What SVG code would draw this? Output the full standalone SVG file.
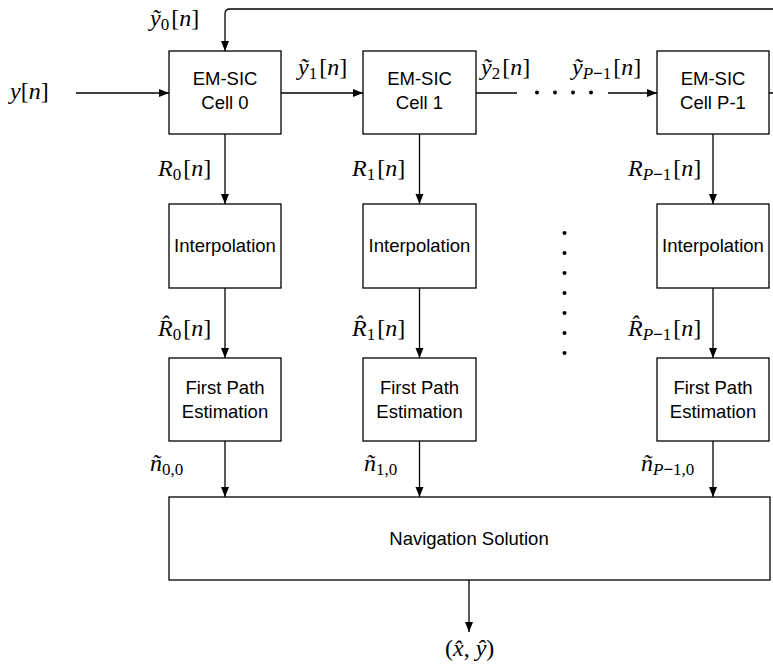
<svg xmlns="http://www.w3.org/2000/svg" width="773" height="665" viewBox="0 0 773 665">
<defs>
<marker id="ah" markerWidth="10" markerHeight="10" refX="10" refY="5" orient="auto" markerUnits="userSpaceOnUse">
<path d="M0,1 L10,5 L0,9 Z" fill="#000"/>
</marker>
<style>
.box{fill:#fff;stroke:#000;stroke-width:1.3}
.t{font-family:"Liberation Sans",Arial,sans-serif;font-size:18.5px;fill:#000;text-anchor:middle}
.ln{fill:none;stroke:#000;stroke-width:1.3}
.ar{fill:none;stroke:#000;stroke-width:1.3;marker-end:url(#ah)}
.m{font-family:"Liberation Serif","Times New Roman",serif;font-size:24px;fill:#000}
.i{font-style:italic}
.s{font-size:17px}
.dot{fill:#000}
</style>
</defs>
<rect width="773" height="665" fill="#fff"/>

<g id="connectors">
<path class="ar" d="M769,93 H790 V9 H230 Q225,9 225,14 V51"/>
<line class="ar" x1="76" y1="93" x2="169" y2="93"/>
<line class="ar" x1="281" y1="93" x2="363" y2="93"/>
<line class="ln" x1="476" y1="93" x2="517" y2="93"/>
<line class="ar" x1="608" y1="93" x2="657" y2="93"/>
<line class="ar" x1="225" y1="134" x2="225" y2="204"/>
<line class="ar" x1="419.5" y1="134" x2="419.5" y2="204"/>
<line class="ar" x1="713" y1="134" x2="713" y2="204"/>
<line class="ar" x1="225" y1="288" x2="225" y2="358"/>
<line class="ar" x1="419.5" y1="288" x2="419.5" y2="358"/>
<line class="ar" x1="713" y1="288" x2="713" y2="358"/>
<line class="ar" x1="225" y1="441" x2="225" y2="497"/>
<line class="ar" x1="419.5" y1="441" x2="419.5" y2="497"/>
<line class="ar" x1="713" y1="441" x2="713" y2="497"/>
<line class="ar" x1="469" y1="580" x2="469" y2="632"/>
<circle class="dot" cx="537" cy="92.5" r="2"/>
<circle class="dot" cx="555" cy="92.5" r="2"/>
<circle class="dot" cx="573" cy="92.5" r="2"/>
<circle class="dot" cx="591" cy="92.5" r="2"/>
<circle class="dot" cx="564.5" cy="233" r="2"/>
<circle class="dot" cx="564.5" cy="253" r="2"/>
<circle class="dot" cx="564.5" cy="273" r="2"/>
<circle class="dot" cx="564.5" cy="293" r="2"/>
<circle class="dot" cx="564.5" cy="313" r="2"/>
<circle class="dot" cx="564.5" cy="333" r="2"/>
<circle class="dot" cx="564.5" cy="353" r="2"/>
</g>

<g id="cell0"><rect class="box" x="169" y="51" width="112" height="83"/><text class="t" x="225" y="85">EM-SIC</text><text class="t" x="225" y="109">Cell 0</text></g>
<g id="cell1"><rect class="box" x="363" y="51" width="113" height="83"/><text class="t" x="419.5" y="85">EM-SIC</text><text class="t" x="419.5" y="109">Cell 1</text></g>
<g id="cellP"><rect class="box" x="657" y="51" width="112" height="83"/><text class="t" x="713" y="85">EM-SIC</text><text class="t" x="713" y="109">Cell P-1</text></g>

<g id="interp0"><rect class="box" x="169" y="204" width="112" height="84"/><text class="t" x="225" y="252">Interpolation</text></g>
<g id="interp1"><rect class="box" x="363" y="204" width="113" height="84"/><text class="t" x="419.5" y="252">Interpolation</text></g>
<g id="interpP"><rect class="box" x="657" y="204" width="112" height="84"/><text class="t" x="713" y="252">Interpolation</text></g>

<g id="fpe0"><rect class="box" x="169" y="358" width="112" height="83"/><text class="t" x="225" y="394">First Path</text><text class="t" x="225" y="418">Estimation</text></g>
<g id="fpe1"><rect class="box" x="363" y="358" width="113" height="83"/><text class="t" x="419.5" y="394">First Path</text><text class="t" x="419.5" y="418">Estimation</text></g>
<g id="fpeP"><rect class="box" x="657" y="358" width="112" height="83"/><text class="t" x="713" y="394">First Path</text><text class="t" x="713" y="418">Estimation</text></g>

<g id="nav"><rect class="box" x="169" y="497" width="601" height="83"/><text class="t" x="469" y="545">Navigation Solution</text></g>

<g id="labels">
<text class="m" x="150" y="26"><tspan class="i">ỹ</tspan><tspan class="s" dy="4">0</tspan><tspan dy="-4" dx="2">[</tspan><tspan class="i">n</tspan>]</text>
<text class="m" x="10" y="99"><tspan class="i">y</tspan>[<tspan class="i">n</tspan>]</text>
<text class="m" x="298" y="75"><tspan class="i">ỹ</tspan><tspan class="s" dy="4">1</tspan><tspan dy="-4" dx="2">[</tspan><tspan class="i">n</tspan>]</text>
<text class="m" x="481" y="75"><tspan class="i">ỹ</tspan><tspan class="s" dy="4">2</tspan><tspan dy="-4" dx="2">[</tspan><tspan class="i">n</tspan>]</text>
<text class="m" x="572" y="75"><tspan class="i">ỹ</tspan><tspan class="s i" dy="4">P</tspan><tspan class="s" font-weight="bold">−</tspan><tspan class="s">1</tspan><tspan dy="-4" dx="2">[</tspan><tspan class="i">n</tspan>]</text>

<text class="m" x="158" y="176"><tspan class="i">R</tspan><tspan class="s" dy="4">0</tspan><tspan dy="-4" dx="2">[</tspan><tspan class="i">n</tspan>]</text>
<text class="m" x="352" y="176"><tspan class="i">R</tspan><tspan class="s" dy="4">1</tspan><tspan dy="-4" dx="2">[</tspan><tspan class="i">n</tspan>]</text>
<text class="m" x="628" y="176"><tspan class="i">R</tspan><tspan class="s i" dy="4">P</tspan><tspan class="s" font-weight="bold">−</tspan><tspan class="s">1</tspan><tspan dy="-4" dx="2">[</tspan><tspan class="i">n</tspan>]</text>

<text class="m" x="158" y="336"><tspan class="i">R̂</tspan><tspan class="s" dy="4">0</tspan><tspan dy="-4" dx="2">[</tspan><tspan class="i">n</tspan>]</text>
<text class="m" x="352" y="336"><tspan class="i">R̂</tspan><tspan class="s" dy="4">1</tspan><tspan dy="-4" dx="2">[</tspan><tspan class="i">n</tspan>]</text>
<text class="m" x="628" y="336"><tspan class="i">R̂</tspan><tspan class="s i" dy="4">P</tspan><tspan class="s" font-weight="bold">−</tspan><tspan class="s">1</tspan><tspan dy="-4" dx="2">[</tspan><tspan class="i">n</tspan>]</text>

<text class="m" x="150" y="471"><tspan class="i">ñ</tspan><tspan class="s" dy="4">0,0</tspan></text>
<text class="m" x="364" y="471"><tspan class="i">ñ</tspan><tspan class="s" dy="4">1,0</tspan></text>
<text class="m" x="641" y="471"><tspan class="i">ñ</tspan><tspan class="s i" dy="4">P</tspan><tspan class="s" font-weight="bold">−</tspan><tspan class="s">1,0</tspan></text>

<text class="m" x="445" y="656">(<tspan class="i">x̂</tspan>, <tspan class="i">ŷ</tspan>)</text>
</g>
</svg>
